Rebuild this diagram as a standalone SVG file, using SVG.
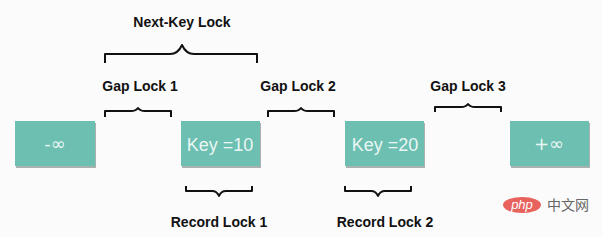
<svg xmlns="http://www.w3.org/2000/svg" width="602" height="237" viewBox="0 0 602 237">
<defs>
<style>
.lbl{font-family:"Liberation Sans",Arial,sans-serif;font-weight:bold;font-size:14px;fill:#111;text-anchor:middle}
.key{font-family:"Liberation Sans",Arial,sans-serif;font-size:18px;fill:#eaf6f3;text-anchor:middle}
.inf{font-family:"DejaVu Sans",sans-serif;font-size:18px;fill:#eaf6f3;text-anchor:middle}
.box{fill:#6cbfb1}
.sh{fill:#a9b2b0}
.br{fill:none;stroke:#111;stroke-width:2;stroke-linejoin:round}
</style>
</defs>
<rect width="602" height="237" fill="#fbfbfb"/>
<g id="node-neg-inf">
<rect class="sh" x="16" y="123" width="80" height="45"/>
<rect class="box" x="15" y="121" width="80" height="45"/>
<text class="inf" x="55" y="150">-∞</text>
</g>
<g id="node-key10">
<rect class="sh" x="182" y="123" width="79" height="45"/>
<rect class="box" x="181" y="121" width="79" height="45"/>
<text class="key" x="220" y="151">Key =10</text>
</g>
<g id="node-key20">
<rect class="sh" x="346" y="123" width="79" height="45"/>
<rect class="box" x="345" y="121" width="79" height="45"/>
<text class="key" x="385" y="151">Key =20</text>
</g>
<g id="node-pos-inf">
<rect class="sh" x="511" y="123" width="79" height="45"/>
<rect class="box" x="510" y="121" width="79" height="45"/>
<text class="inf" x="549" y="150">+∞</text>
</g>
<g id="connectors">
<path class="br" d="M105,63 V54 H170 Q178,54 182,45 Q186,54 194,54 H257 V63"/>
<path class="br" d="M105,117 V111 H131 Q136,111 138,108 Q140,111 145,111 H171 V117"/>
<path class="br" d="M268,117 V111 H294 Q299,111 301,108 Q303,111 308,111 H334 V117"/>
<path class="br" d="M435,112 V107 H461 Q466,107 468,104 Q470,107 475,107 H501 V112"/>
<path class="br" d="M186,186 V191 H212 Q217,191 219,196 Q221,191 226,191 H252 V186"/>
<path class="br" d="M345,186 V191 H371 Q376,191 378,196 Q380,191 385,191 H411 V186"/>
</g>
<g id="labels">
<text class="lbl" x="182" y="27">Next-Key Lock</text>
<text class="lbl" x="140" y="91">Gap Lock 1</text>
<text class="lbl" x="298" y="91">Gap Lock 2</text>
<text class="lbl" x="468" y="91">Gap Lock 3</text>
<text class="lbl" x="219" y="227">Record Lock 1</text>
<text class="lbl" x="385" y="227">Record Lock 2</text>
</g>
<g id="watermark">
<ellipse cx="522" cy="205" rx="19" ry="8" fill="#e8625e"/>
<text x="522" y="209" font-family="Liberation Sans,Arial,sans-serif" font-style="italic" font-size="13" fill="#fff" text-anchor="middle">php</text>
<text x="547" y="210" font-family="Noto Sans CJK SC,sans-serif" font-size="14" fill="#666">中文网</text>
</g>
</svg>
